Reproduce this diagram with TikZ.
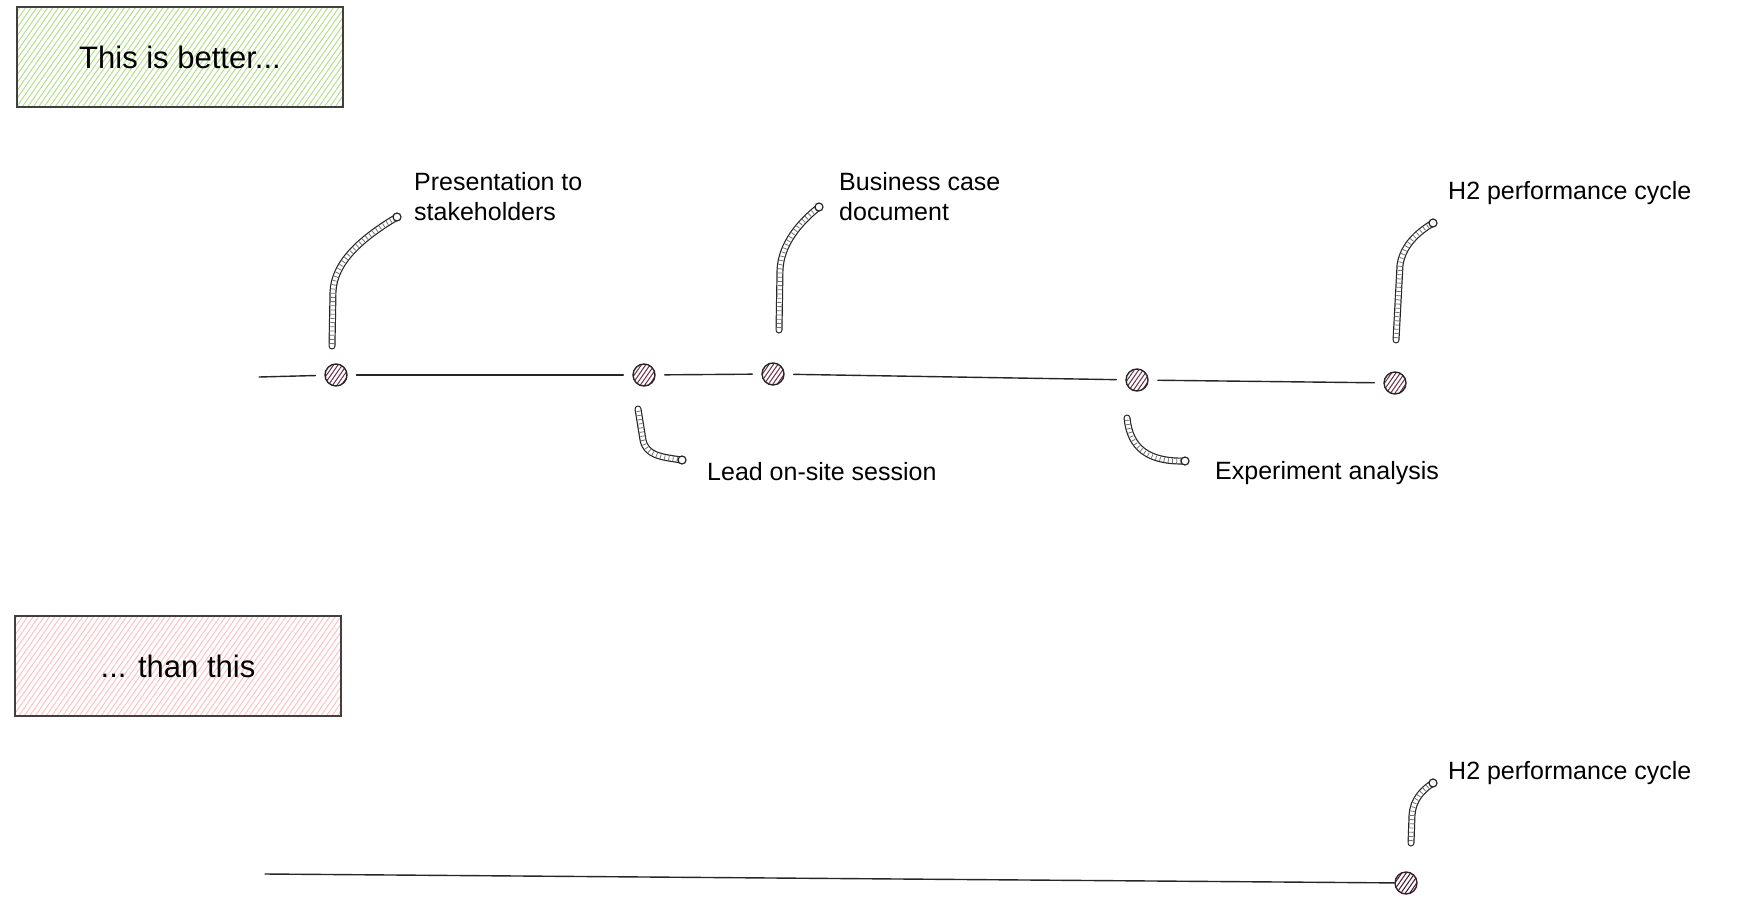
\documentclass[tikz,border=0pt]{standalone}
\usepackage{fontspec}
\setmainfont{Liberation Sans}
\usetikzlibrary{patterns.meta}
\definecolor{boxgreen}{HTML}{B5E08A}
\definecolor{boxpink}{HTML}{FFC2C2}
\definecolor{dotink}{HTML}{3E1A2C}
\definecolor{dothatch}{HTML}{6A2C47}
\newcommand\tlfont{\fontsize{25}{30}\selectfont}
\newcommand\boxfont{\fontsize{31}{36}\selectfont}
\def\tube#1{\draw[tubeline] #1; \draw[tubehatch] #1;}

\begin{document}
\begin{tikzpicture}[x=1pt, y=-1pt,
	tubeline/.style={line width=1.2pt, double=white, double distance=4.6pt, line cap=round, black!85},
	tubehatch/.style={line width=4.2pt, black!55, dash pattern=on 0.8pt off 3.4pt, shorten <=2pt, shorten >=2pt},
	tipring/.style={circle, draw=black!85, fill=white, line width=1.2pt, inner sep=0pt, minimum size=8pt},
	dot/.style={circle, draw=black!85, line width=1.4pt, inner sep=0pt, minimum size=22pt, pattern={Lines[angle=55,distance=3.6pt,line width=1pt]}, pattern color=dothatch},
	tline/.style={line width=1.4pt, black!85, line cap=round, shorten <=9pt, shorten >=9pt},
	sketchbox/.style={draw=black!75, line width=1.6pt, inner sep=0pt, minimum width=326pt, minimum height=100pt, font=\boxfont},
	lbl/.style={anchor=west, inner sep=0pt, align=left, font=\tlfont}]
		%%%%% START %%%%%
		
		\fill[white] (0,0) rectangle (1760,923);
		\useasboundingbox (0,0) rectangle (1760,923);
		
		\node[sketchbox, pattern={Lines[angle=55,distance=4.5pt,line width=1pt]}, pattern color=boxgreen] (betterbox) at (180,57) {This is better...};
		
		% timeline that is better
		\node[dot] (d1) at (336,375) {};
		\node[dot] (d2) at (644,375) {};
		\node[dot] (d3) at (773,374) {};
		\node[dot] (d4) at (1137,380) {};
		\node[dot] (d5) at (1395,383) {};
		\coordinate (tlstart) at (259,377);
		\draw[tline, shorten <=0pt] (tlstart) -- (d1);
		\foreach \a/\b in {d1/d2,d2/d3,d3/d4,d4/d5}
			\draw[tline] (\a) -- (\b);
		
		\coordinate (c1foot) at (332,346);
		\coordinate (c1tip) at (397,217);
		\tube{(c1foot) -- (333,292) .. controls (334,262) and (362,238) .. (c1tip)}
		\node[tipring] (c1ring) at (c1tip) {};
		
		\coordinate (c2foot) at (638,409);
		\coordinate (c2tip) at (682,460);
		\tube{(c2foot) -- (643,440) .. controls (646,455) and (660,457) .. (c2tip)}
		\node[tipring] (c2ring) at (c2tip) {};
		
		\coordinate (c3foot) at (779,330);
		\coordinate (c3tip) at (819,207);
		\tube{(c3foot) -- (780,270) .. controls (781,244) and (800,222) .. (c3tip)}
		\node[tipring] (c3ring) at (c3tip) {};
		
		\coordinate (c4foot) at (1127,418);
		\coordinate (c4tip) at (1185,461);
		\tube{(c4foot) .. controls (1130,448) and (1148,462) .. (c4tip)}
		\node[tipring] (c4ring) at (c4tip) {};
		
		\coordinate (c5foot) at (1396,340);
		\coordinate (c5tip) at (1433,223);
		\tube{(c5foot) -- (1400,265) .. controls (1403,245) and (1418,232) .. (c5tip)}
		\node[tipring] (c5ring) at (c5tip) {};
		
		\node[lbl] (lpres) at (414,197) {Presentation to\\stakeholders};
		\node[lbl] (lbiz) at (839,197) {Business case\\document};
		\node[lbl] (llead) at (707,472) {Lead on-site session};
		\node[lbl] (lexp) at (1215,473) {Experiment analysis};
		\node[lbl] (lh2top) at (1448,193) {H2 performance cycle};
		
		% timeline that is worse
		\node[sketchbox, pattern={Lines[angle=55,distance=4.5pt,line width=1pt]}, pattern color=boxpink] (worsebox) at (178,666) {... than this};
		
		\node[dot, draw=dotink, pattern color=dotink] (d6) at (1406,883) {};
		\coordinate (blstart) at (265,874);
		\draw[tline, shorten <=0pt, shorten >=0pt] (blstart) -- (d6);
		
		\coordinate (c6foot) at (1411,843);
		\coordinate (c6tip) at (1433,783);
		\tube{(c6foot) -- (1412,815) .. controls (1413,800) and (1422,790) .. (c6tip)}
		\node[tipring] (c6ring) at (c6tip) {};
		
		\node[lbl] (lh2bot) at (1448,773) {H2 performance cycle};
		
		%%%%% END %%%%%
	\end{tikzpicture}
\end{document}
